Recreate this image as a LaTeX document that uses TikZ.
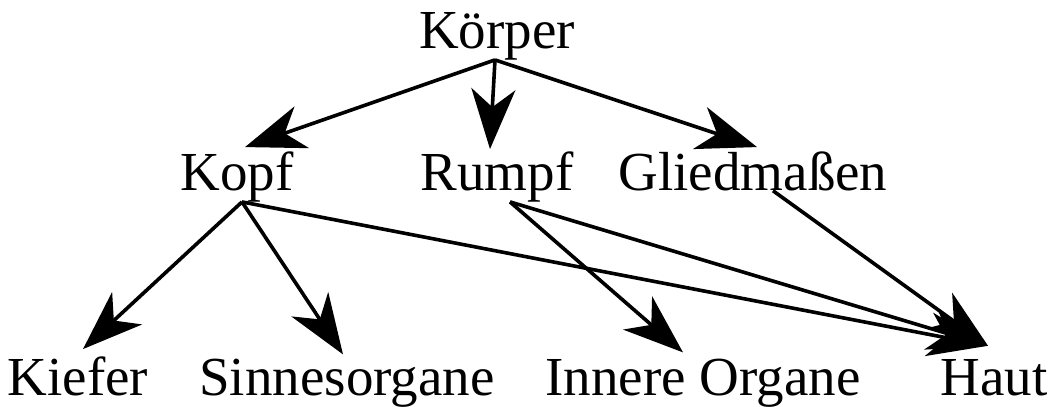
\documentclass[tikz,border=0pt]{standalone}
\usepackage{fontspec}
\setmainfont{Liberation Serif}
\usetikzlibrary{arrows.meta}
\begin{document}
\begin{tikzpicture}[x=1pt,y=-1pt,
  lbl/.style={inner sep=0pt, anchor=base, font=\fontsize{55}{60}\selectfont},
  arr/.style={line width=3.6pt, -{Stealth[length=60pt, width=44pt, inset=18pt]}}]
\useasboundingbox (0,0) rectangle (1053,407);

% hierarchy labels
\node[lbl] (koerper) at (497,48)  {Körper};
\node[lbl] (kopf)    at (237,190) {Kopf};
\node[lbl] (rumpf)   at (497,190) {Rumpf};
\node[lbl] (glied)   at (753,190) {Gliedmaßen};
\node[lbl] (kiefer)  at (78,395)  {Kiefer};
\node[lbl] (sinne)   at (347,395) {Sinnesorgane};
\node[lbl] (innere)  at (703,395) {Innere Organe};
\node[lbl] (haut)    at (994,395) {Haut};

% part-of relations
\draw[arr] ([xshift=-2pt]koerper.south) -- ([xshift=8pt,yshift=4pt]kopf.north);
\draw[arr] ([xshift=-2pt]koerper.south) -- ([xshift=-7pt,yshift=2pt]rumpf.north);
\draw[arr] ([xshift=-2pt]koerper.south) -- ([xshift=4pt,yshift=4pt]glied.north);

\draw[arr] ([xshift=5pt]kopf.south) -- ([xshift=5pt,yshift=7pt]kiefer.north);
\draw[arr] ([xshift=5pt]kopf.south) -- ([xshift=-4pt,yshift=4pt]sinne.north);
\draw[arr] ([xshift=5pt]kopf.south) -- ([xshift=-6pt,yshift=13pt]haut.north);

\draw[arr] ([xshift=13pt]rumpf.south) -- ([xshift=-20pt,yshift=6pt]innere.north);
\draw[arr] ([xshift=13pt]rumpf.south) -- ([xshift=-6pt,yshift=13pt]haut.north);

\draw[arr] ([xshift=20pt]glied.south) -- ([xshift=-6pt,yshift=13pt]haut.north);
\end{tikzpicture}
\end{document}
